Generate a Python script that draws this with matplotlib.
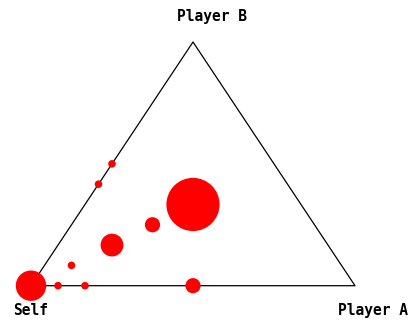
"""
    Ternary plot: Self / Player A / Player B shares
"""

import numpy as np
from matplotlib import pyplot as plt

# shares of each outcome (Player A, Player B), Self = rest
share_a = [0, 1/12, 1/6, 1/2, 1/12, 0, 0, 1/6, 1/4, 1/3]
share_b = [0, 0, 0, 0, 1/12, 5/12, 1/2, 1/6, 1/4, 1/3]
# how often each outcome happened
counts = [4, 1, 1, 2, 1, 1, 1, 3, 2, 7]

corner_labels = ["Self", "Player A", "Player B"]

W, H = 419, 324
fig = plt.figure(figsize=(W / 100, H / 100), dpi=100)
# axes placed so the triangle corners land where they are in the picture
ax = fig.add_axes([31 / W, (H - 285.7) / H, 324 / W, 243.7 / H])
ax.set_xlim(0, 1)
ax.set_ylim(0, 1)
ax.axis("off")

# triangle outline
ax.plot([0, 1, 0.5, 0], [0, 0, 1, 0], color="black", lw=0.9, clip_on=False)

# barycentric -> cartesian
a = np.array(share_a)
b = np.array(share_b)
x = a + b / 2
y = b

r = 3.8 * np.array(counts)  # radius in pixels
s = (2 * r * 0.72) ** 2
ax.scatter(x, y, s=s, c="red", edgecolors="none", clip_on=False, zorder=3)

fnt = dict(family="DejaVu Sans Mono", weight="bold", fontsize=10.5,
           va="baseline", clip_on=False)
ax.text(0.0, -0.122, corner_labels[0], ha="center", **fnt)
ax.text(0.948, -0.122, corner_labels[1], ha="left", **fnt)
ax.text(0.559, 1.086, corner_labels[2], ha="center", **fnt)

plt.savefig("out.png", dpi=100)
